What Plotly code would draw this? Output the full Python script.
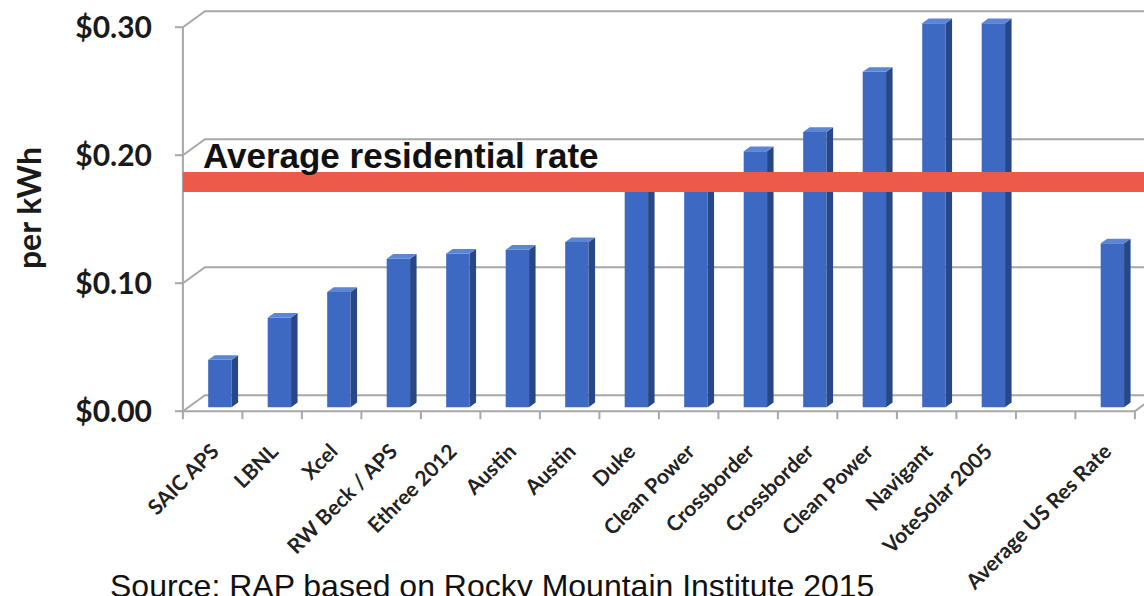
import plotly.graph_objects as go

# ---------------- data ----------------
categories = ["SAIC APS", "LBNL", "Xcel", "RW Beck / APS", "Ethree 2012", "Austin", "Austin",
              "Duke", "Clean Power", "Crossborder", "Crossborder", "Clean Power", "Navigant",
              "VoteSolar 2005", "", "Average US Res Rate"]
values = [0.037, 0.070, 0.090, 0.116, 0.120, 0.123, 0.129, 0.175, 0.175, 0.200, 0.215,
          0.262, 0.300, 0.300, None, 0.128]
avg_residential_rate = 0.176
avg_label = "Average residential rate"
y_ticks = [0.0, 0.1, 0.2, 0.3]
y_tick_labels = ["$0.00", "$0.10", "$0.20", "$0.30"]
y_title = "per kWh"
source_text = "Source: RAP based on Rocky Mountain Institute 2015"

# ---------------- geometry / style ----------------
W, H = 1144, 596
PX_X = 59.5          # px per category
PX_Y = 1280.0        # px per $1
L_MARG, T_MARG, B_MARG = 171, 4, 172
X_LO = -0.7
X_HI = X_LO + (W - L_MARG) / PX_X
Y_LO = -0.01
Y_HI = Y_LO + (H - T_MARG - B_MARG) / PX_Y

X0 = -0.5                       # front-left edge of floor
XR = len(categories) - 0.5      # front-right edge of floor
DX = 22 / PX_X                  # wall depth (x)
DY = 16 / PX_Y                  # wall depth (y)
BASE = 4 / PX_Y                 # bar sits slightly behind the front edge
BAR_OFF, BAR_W = -0.075, 0.393
BDX, BDY = 6.5 / PX_X, 4.7 / PX_Y

FRONT = "#3D69C2"
SIDE = "#284786"
TOP = "#5B86D6"
GRID = "#A8A8A8"
RED = "#EE5A4A"

fig = go.Figure()

# front faces
fig.add_trace(go.Bar(
    x=list(range(len(categories))), y=values, base=BASE,
    offset=BAR_OFF, width=BAR_W,
    marker=dict(color=FRONT, line=dict(width=0)),
    hoverinfo="skip", showlegend=False))

# side and top faces (derived from the values)
sx, sy, tx, ty = [], [], [], []
for i, v in enumerate(values):
    if v is None:
        continue
    xl = i + BAR_OFF
    xr = xl + BAR_W
    sx += [xr, xr + BDX, xr + BDX, xr, xr, None]
    sy += [BASE, BASE + BDY, BASE + v + BDY, BASE + v, BASE, None]
    tx += [xl, xr, xr + BDX, xl + BDX, xl, None]
    ty += [BASE + v, BASE + v, BASE + v + BDY, BASE + v + BDY, BASE + v, None]
fig.add_trace(go.Scatter(x=sx, y=sy, mode="lines", fill="toself", fillcolor=SIDE,
                         line=dict(width=0, color=SIDE), hoverinfo="skip", showlegend=False))
fig.add_trace(go.Scatter(x=tx, y=ty, mode="lines", fill="toself", fillcolor=TOP,
                         line=dict(width=0, color=TOP), hoverinfo="skip", showlegend=False))

shapes = []
# back-wall gridlines with the perspective connector
for v in y_ticks:
    shapes.append(dict(type="path", xref="x", yref="y", layer="below",
                       path=f"M {X0},{v} L {X0 + DX},{v + DY} L {X_HI + 1},{v + DY}",
                       line=dict(color=GRID, width=2)))
# front axes
shapes.append(dict(type="path", xref="x", yref="y", layer="below",
                   path=f"M {X0},{y_ticks[-1]} L {X0},0 L {XR},0 L {XR + DX},{DY}",
                   line=dict(color=GRID, width=2)))
# y tick marks
for v in y_ticks:
    shapes.append(dict(type="line", xref="x", yref="y", layer="below",
                       x0=X0 - 8 / PX_X, x1=X0, y0=v, y1=v,
                       line=dict(color=GRID, width=2)))
# x tick marks at category boundaries
for k in range(len(categories) + 1):
    b = X0 + k
    shapes.append(dict(type="line", xref="x", yref="y", layer="below",
                       x0=b, x1=b, y0=0, y1=-8 / PX_Y,
                       line=dict(color=GRID, width=2)))
# average residential rate band
shapes.append(dict(type="line", xref="x", yref="y", layer="above",
                   x0=X0, x1=X_HI + 1, y0=BASE + avg_residential_rate, y1=BASE + avg_residential_rate,
                   line=dict(color=RED, width=20)))

annotations = [
    dict(text=avg_label, xref="x", yref="y", x=X0 + 0.30, y=0.2, xanchor="left", yanchor="middle",
         showarrow=False, font=dict(family="Liberation Sans", size=35, color="#111111", weight="bold")),
    dict(text=y_title, xref="paper", yref="paper", x=(28 - L_MARG) / (W - L_MARG), y=0.514,
         xanchor="center", yanchor="middle", textangle=-90, showarrow=False,
         font=dict(family="Lato", size=32, color="#1a1a1a", weight="bold")),
    dict(text=source_text, xref="paper", yref="paper", x=(108 - L_MARG) / (W - L_MARG), y=-0.338,
         xanchor="left", yanchor="top", showarrow=False,
         font=dict(family="Liberation Sans", size=32, color="#111111")),
]

fig.update_layout(
    width=W, height=H,
    margin=dict(l=L_MARG, r=0, t=T_MARG, b=B_MARG, pad=0),
    paper_bgcolor="white", plot_bgcolor="white",
    shapes=shapes, annotations=annotations, showlegend=False,
    xaxis=dict(range=[X_LO, X_HI], tickmode="array", tickvals=list(range(len(categories))),
               ticktext=categories, tickangle=-45, ticks="", showgrid=False, zeroline=False,
               showline=False, ticklabelstandoff=10,
               tickfont=dict(family="Lato", size=21, color="#222222", weight="bold")),
    yaxis=dict(range=[Y_LO, Y_HI], tickmode="array", tickvals=y_ticks, ticktext=y_tick_labels,
               ticks="", showgrid=False, zeroline=False, showline=False, ticklabelstandoff=18,
               tickfont=dict(family="Lato", size=30, color="#1a1a1a", weight="bold")),
)

fig.write_html("out.html")
